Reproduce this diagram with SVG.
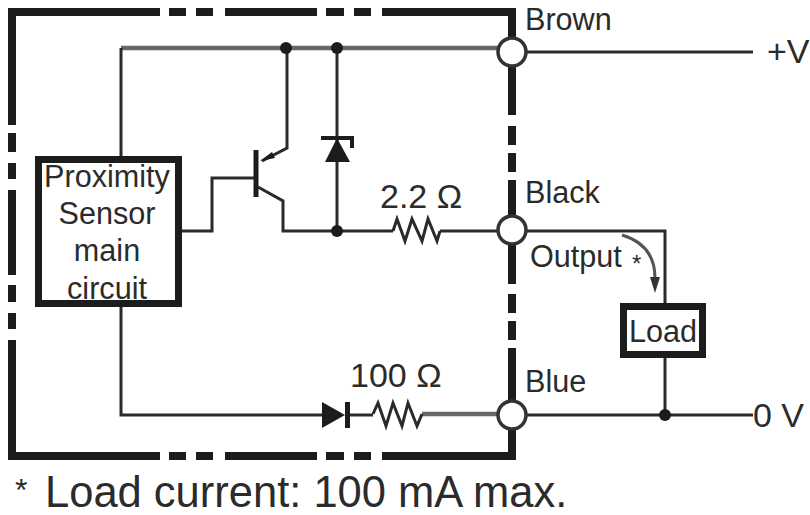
<svg xmlns="http://www.w3.org/2000/svg" width="810" height="515" viewBox="0 0 810 515">
<defs>
<style>
text{font-family:"Liberation Sans",Arial,sans-serif;font-size:30.600px;fill:#2b2b2b}
.w{fill:none;stroke:#2a2a2a;stroke-width:3}
.g{fill:none;stroke:#666;stroke-width:4.500}
.o{fill:none;stroke:#1c1c1c;stroke-width:8}
.b{fill:#fff;stroke:#1c1c1c;stroke-width:7}
.t{fill:#fff;stroke:#333;stroke-width:3.500}
.d{fill:#1c1c1c}
.m{text-anchor:middle}
.v{font-size:34px}
</style>
</defs>
<rect width="810" height="515" fill="#fff"/>
<g id="enclosure">
<path class="o" d="M160 12H8M169 12H186M196 12H213M225 12H317M326 12H344M354 12H371M382 12H516"/>
<path class="o" d="M160 456H8M169 456H186M196 456H213M225 456H317M326 456H344M354 456H371M382 456H516"/>
<path class="o" d="M12 8V125M12 133V152M12 163V179M12 190V275M12 285V302M12 313V329M12 340V460"/>
<path class="o" d="M512 8V115M512 126V145M512 153V172M512 180V284M512 294V313M512 321V340M512 348V460"/>
</g>
<g id="connectors">
<path class="g" d="M121 48H500"/>
<path class="w" d="M121 48V157"/>
<path class="w" d="M182 231H212V178H256"/>
<path class="w" d="M287 48V148L262 161"/>
<path class="w" d="M258 187L283 201V231H393"/>
<path class="w" d="M337 48V231"/>
<path class="w" d="M440 231H500"/>
<path class="w" d="M121 307V415H325"/>
<path class="w" d="M347 415H373"/>
<path class="g" d="M422 414H500"/>
<path class="w" d="M524 52H753"/>
<path class="w" d="M524 231H665V305"/>
<path class="w" d="M665 356V415"/>
<path class="w" d="M524 415H753"/>
<path d="M622 235Q655 245 655 278" fill="none" stroke="#555" stroke-width="3"/>
<path d="M650 277H660L655 293Z" fill="#333"/>
</g>
<g id="junctions">
<circle class="d" cx="286" cy="48" r="6"/>
<circle class="d" cx="337" cy="48" r="6"/>
<circle class="d" cx="337" cy="231" r="6"/>
<circle class="d" cx="665" cy="415" r="6"/>
</g>
<g id="sensor">
<rect class="b" x="38.500" y="159.500" width="140" height="144"/>
<text class="m" x="107" y="187">Proximity</text>
<text class="m" x="107" y="224">Sensor</text>
<text class="m" x="107" y="261">main</text>
<text class="m" x="107" y="299">circuit</text>
</g>
<g id="transistor">
<path d="M256 150V197" fill="none" stroke="#1c1c1c" stroke-width="5"/>
<path class="d" d="M260 161L272 152L275 158Z"/>
</g>
<g id="zener">
<path d="M321 138H352V148" fill="none" stroke="#1c1c1c" stroke-width="4"/>
<path class="d" d="M337 138L350 162H325Z"/>
</g>
<g id="resistor-2-2">
<path class="w" d="M393 231L397 219L405 241L412 219L422 241L428 219L437 241L440 231"/>
<text class="v" x="380" y="208">2.2 Ω</text>
</g>
<g id="diode">
<path class="d" d="M322 402L345 415L322 428Z"/>
<path d="M347.500 402V428" fill="none" stroke="#1c1c1c" stroke-width="5"/>
</g>
<g id="resistor-100">
<path class="w" d="M373 414L378 403L386 426L393 403L402 426L408 403L417 426L422 414"/>
<text class="v" x="350" y="387">100 Ω</text>
</g>
<g id="terminal-brown">
<circle class="t" cx="512" cy="52" r="14"/>
<text x="525" y="30">Brown</text>
</g>
<g id="terminal-black">
<circle class="t" cx="512" cy="230" r="14"/>
<text x="525" y="203">Black</text>
<text x="530" y="267">Output</text>
<text x="632" y="272" style="font-size:24px">*</text>
</g>
<g id="terminal-blue">
<circle class="t" cx="512" cy="415" r="14"/>
<text x="525" y="392">Blue</text>
</g>
<g id="load">
<rect class="b" x="623.500" y="306.500" width="79" height="48"/>
<text class="m" x="663" y="342">Load</text>
</g>
<g id="supply-labels">
<text class="v" x="767" y="63">+V</text>
<text class="v" x="753" y="427">0 V</text>
</g>
<text x="15" y="501" style="font-size:43.500px"><tspan style="font-size:32px">*</tspan><tspan x="45" dy="6">Load current: 100 mA max.</tspan></text>
</svg>
